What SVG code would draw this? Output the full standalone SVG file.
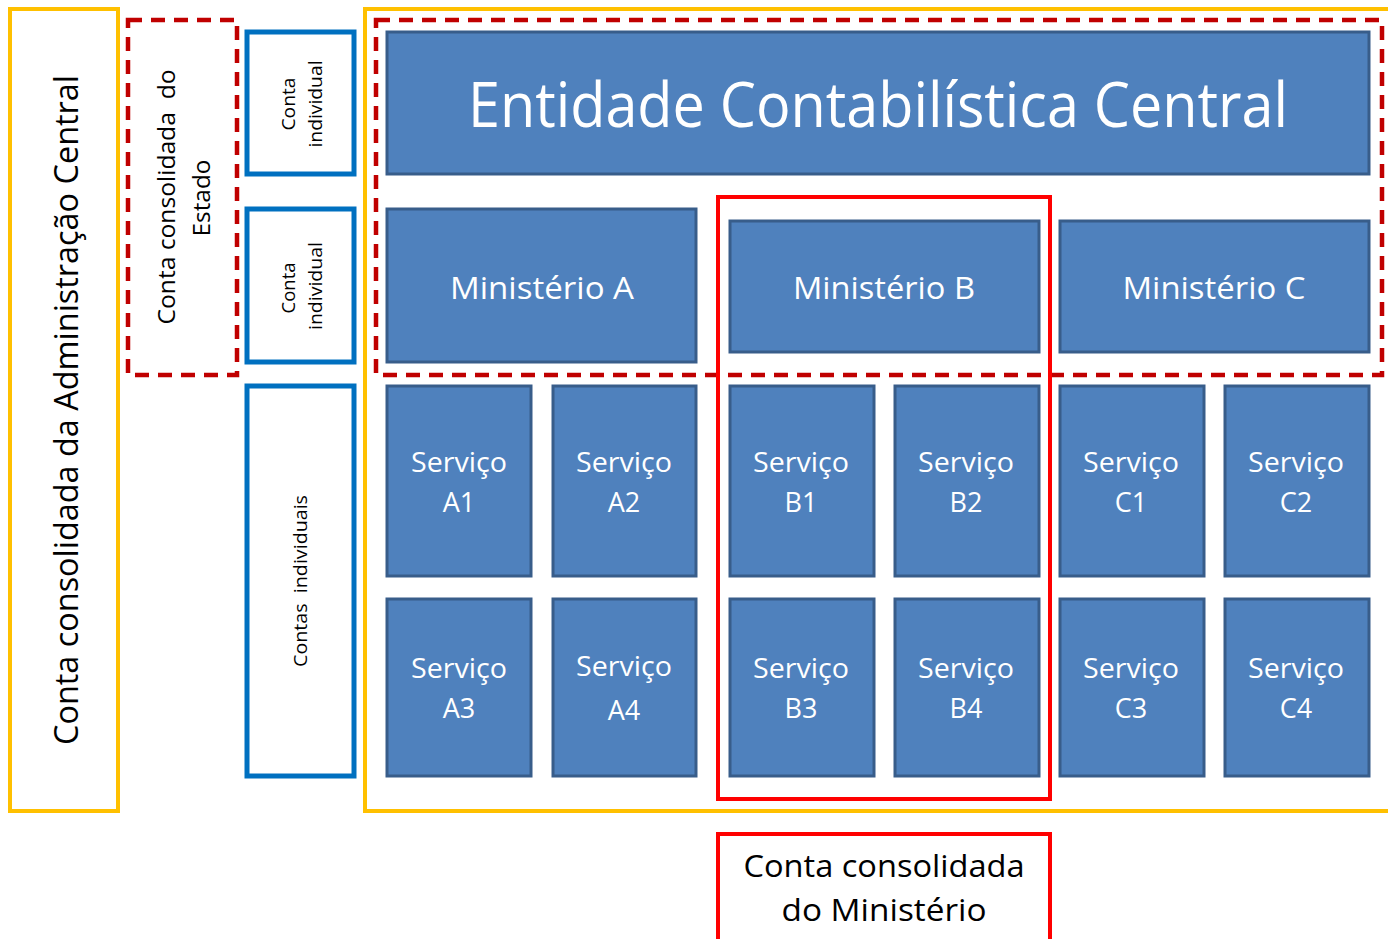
<svg xmlns="http://www.w3.org/2000/svg" width="1388" height="939" viewBox="0 0 1388 939">
<style>
.yel{fill:#fff;stroke:#FFC000;stroke-width:4}
.rd{fill:none;stroke:#C00000;stroke-width:4.5;stroke-dasharray:14,9}
.blu{fill:#fff;stroke:#0070C0;stroke-width:5}
.box{fill:#4F81BD;stroke:#385D8A;stroke-width:3}
.rs{fill:none;stroke:#FF0000;stroke-width:4}
text{font-family:"Open Sans","Noto Sans",sans-serif;text-anchor:middle}
.pre{white-space:pre}
.w{fill:#fff}
.k{fill:#000}
</style>
<rect width="1388" height="939" fill="#fff"/>
<g id="admin-central">
<rect class="yel" x="10" y="9" width="108" height="802"/>
<text class="k" font-size="33" textLength="670" lengthAdjust="spacingAndGlyphs" transform="translate(78,410) rotate(-90)">Conta consolidada da Administração Central</text>
</g>
<g id="main-frame">
<rect class="yel" x="365" y="9" width="1030" height="802"/>
</g>
<g id="estado">
<rect class="rd" x="128" y="20" width="109" height="355"/>
<text class="k pre" xml:space="preserve" font-size="24" textLength="255" lengthAdjust="spacingAndGlyphs" transform="translate(175,197) rotate(-90)">Conta consolidada  do</text>
<text class="k" font-size="24" textLength="77" lengthAdjust="spacingAndGlyphs" transform="translate(210,198) rotate(-90)">Estado</text>
</g>
<g id="conta-individual-1">
<rect class="blu" x="247" y="32" width="107" height="142"/>
<text class="k" font-size="18" textLength="53" lengthAdjust="spacingAndGlyphs" transform="translate(295,104) rotate(-90)">Conta</text>
<text class="k" font-size="18" textLength="87" lengthAdjust="spacingAndGlyphs" transform="translate(322,104) rotate(-90)">individual</text>
</g>
<g id="conta-individual-2">
<rect class="blu" x="247" y="209" width="107" height="153"/>
<text class="k" font-size="18" textLength="51" lengthAdjust="spacingAndGlyphs" transform="translate(295,288) rotate(-90)">Conta</text>
<text class="k" font-size="18" textLength="88" lengthAdjust="spacingAndGlyphs" transform="translate(322,286) rotate(-90)">individual</text>
</g>
<g id="contas-individuais">
<rect class="blu" x="247" y="386" width="107" height="390"/>
<text class="k pre" xml:space="preserve" font-size="18" textLength="172" lengthAdjust="spacingAndGlyphs" transform="translate(307,581) rotate(-90)">Contas  individuais</text>
</g>
<g id="entidade">
<rect class="box" x="387" y="32" width="982" height="142"/>
<text class="w" x="878" y="127" font-size="62" textLength="820" lengthAdjust="spacingAndGlyphs">Entidade Contabilística Central</text>
</g>
<g id="ministerio-a">
<rect class="box" x="387" y="209" width="309" height="153"/>
<text class="w" x="542" y="299" font-size="31" textLength="184" lengthAdjust="spacingAndGlyphs">Ministério A</text>
</g>
<g id="ministerio-b">
<rect class="box" x="730" y="221" width="309" height="131"/>
<text class="w" x="884" y="299" font-size="31" textLength="182" lengthAdjust="spacingAndGlyphs">Ministério B</text>
</g>
<g id="ministerio-c">
<rect class="box" x="1060" y="221" width="309" height="131"/>
<text class="w" x="1214" y="299" font-size="31" textLength="183" lengthAdjust="spacingAndGlyphs">Ministério C</text>
</g>
<g id="servico-a1"><rect class="box" x="387" y="386" width="144" height="190"/><text class="w" x="459" y="472" font-size="27" textLength="96" lengthAdjust="spacingAndGlyphs">Serviço</text><text class="w" x="459" y="512" font-size="27">A1</text></g>
<g id="servico-a2"><rect class="box" x="553" y="386" width="143" height="190"/><text class="w" x="624" y="472" font-size="27" textLength="96" lengthAdjust="spacingAndGlyphs">Serviço</text><text class="w" x="624" y="512" font-size="27">A2</text></g>
<g id="servico-b1"><rect class="box" x="730" y="386" width="144" height="190"/><text class="w" x="801" y="472" font-size="27" textLength="96" lengthAdjust="spacingAndGlyphs">Serviço</text><text class="w" x="801" y="512" font-size="27">B1</text></g>
<g id="servico-b2"><rect class="box" x="895" y="386" width="144" height="190"/><text class="w" x="966" y="472" font-size="27" textLength="96" lengthAdjust="spacingAndGlyphs">Serviço</text><text class="w" x="966" y="512" font-size="27">B2</text></g>
<g id="servico-c1"><rect class="box" x="1060" y="386" width="144" height="190"/><text class="w" x="1131" y="472" font-size="27" textLength="96" lengthAdjust="spacingAndGlyphs">Serviço</text><text class="w" x="1131" y="512" font-size="27">C1</text></g>
<g id="servico-c2"><rect class="box" x="1225" y="386" width="144" height="190"/><text class="w" x="1296" y="472" font-size="27" textLength="96" lengthAdjust="spacingAndGlyphs">Serviço</text><text class="w" x="1296" y="512" font-size="27">C2</text></g>
<g id="servico-a3"><rect class="box" x="387" y="599" width="144" height="177"/><text class="w" x="459" y="678" font-size="27" textLength="96" lengthAdjust="spacingAndGlyphs">Serviço</text><text class="w" x="459" y="718" font-size="27">A3</text></g>
<g id="servico-a4"><rect class="box" x="553" y="599" width="143" height="177"/><text class="w" x="624" y="676" font-size="27" textLength="96" lengthAdjust="spacingAndGlyphs">Serviço</text><text class="w" x="624" y="720" font-size="27">A4</text></g>
<g id="servico-b3"><rect class="box" x="730" y="599" width="144" height="177"/><text class="w" x="801" y="678" font-size="27" textLength="96" lengthAdjust="spacingAndGlyphs">Serviço</text><text class="w" x="801" y="718" font-size="27">B3</text></g>
<g id="servico-b4"><rect class="box" x="895" y="599" width="144" height="177"/><text class="w" x="966" y="678" font-size="27" textLength="96" lengthAdjust="spacingAndGlyphs">Serviço</text><text class="w" x="966" y="718" font-size="27">B4</text></g>
<g id="servico-c3"><rect class="box" x="1060" y="599" width="144" height="177"/><text class="w" x="1131" y="678" font-size="27" textLength="96" lengthAdjust="spacingAndGlyphs">Serviço</text><text class="w" x="1131" y="718" font-size="27">C3</text></g>
<g id="servico-c4"><rect class="box" x="1225" y="599" width="144" height="177"/><text class="w" x="1296" y="678" font-size="27" textLength="96" lengthAdjust="spacingAndGlyphs">Serviço</text><text class="w" x="1296" y="718" font-size="27">C4</text></g>
<g id="ministerio-dashed">
<rect class="rd" x="376" y="20" width="1006" height="355"/>
</g>
<g id="ministerio-b-solid">
<rect class="rs" x="718" y="197" width="332" height="602"/>
</g>
<g id="legend-ministerio">
<rect class="rs" x="718" y="834" width="332" height="110"/>
<text class="k" x="884" y="877" font-size="31" textLength="281" lengthAdjust="spacingAndGlyphs">Conta consolidada</text>
<text class="k" x="884" y="921" font-size="31" textLength="205" lengthAdjust="spacingAndGlyphs">do Ministério</text>
</g>
<g id="connectors"></g>
</svg>
